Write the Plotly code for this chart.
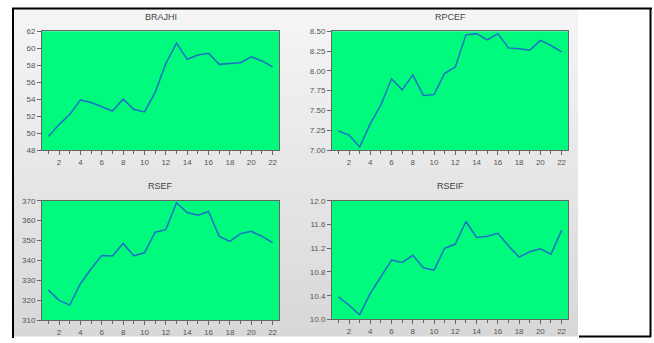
import plotly.graph_objects as go

W, H = 654, 343

obs = list(range(1, 23))
brajhi = [49.6, 51.0, 52.2, 53.9, 53.6, 53.1, 52.6, 54.0, 52.8, 52.5, 54.8,
          58.2, 60.6, 58.7, 59.2, 59.4, 58.1, 58.2, 58.3, 59.0, 58.5, 57.8]
rpcef = [7.24, 7.19, 7.04, 7.33, 7.57, 7.90, 7.76, 7.95, 7.69, 7.70, 7.97,
         8.05, 8.455, 8.47, 8.39, 8.47, 8.29, 8.28, 8.26, 8.385, 8.32, 8.24]
rsef = [325.2, 320.1, 317.7, 328.4, 335.9, 342.6, 342.3, 348.6, 342.4, 343.9,
        354.2, 355.5, 369.0, 364.1, 362.7, 364.6, 352.1, 349.6, 353.5, 354.7,
        352.1, 349.0]
rseif = [10.38, 10.24, 10.08, 10.44, 10.72, 11.00, 10.96, 11.08, 10.87, 10.83,
         11.20, 11.27, 11.65, 11.38, 11.40, 11.45, 11.24, 11.05, 11.14, 11.19,
         11.10, 11.50]

titles = ["BRAJHI", "RPCEF", "RSEF", "RSEIF"]
series = [brajhi, rpcef, rsef, rseif]
yranges = [(48, 62), (7.0, 8.5), (310, 370), (10.0, 12.0)]
ydticks = [2, 0.25, 10, 0.4]
yformats = ["d", ".2f", "d", ".1f"]

# pixel boxes: (left, right, top, bottom)
boxes = [(42, 279, 28, 150), (332, 568, 28, 150),
         (42, 279, 202, 325), (332, 568, 202, 324)]

def px(x):
    return x / W

def py(y):
    return 1 - y / H

fig = go.Figure()
layout = {}
annotations = []
for i, (t, s, yr, dt, fmt, b) in enumerate(zip(titles, series, yranges, ydticks, yformats, boxes)):
    n = "" if i == 0 else str(i + 1)
    fig.add_trace(go.Scatter(x=obs, y=s, mode="lines",
                             line=dict(color="#1c6fc4", width=1.5),
                             xaxis="x" + n, yaxis="y" + n, showlegend=False,
                             hoverinfo="skip"))
    l, r, tp, bt = b
    layout["xaxis" + n] = dict(
        domain=[px(l), px(r)], anchor="y" + n, range=[0.4, 22.6],
        tick0=0, dtick=2, ticks="outside", ticklen=4, tickcolor="#666",
        showgrid=False, zeroline=False, showline=True, linecolor="#666",
        linewidth=1, mirror=True,
        tickfont=dict(family="Liberation Sans, Arial", size=8, color="#555"),
        minor=dict(dtick=1, tick0=0, ticks="outside", ticklen=3, tickcolor="#666"),
        fixedrange=True)
    layout["yaxis" + n] = dict(
        domain=[py(bt), py(tp)], anchor="x" + n, range=list(yr),
        dtick=dt, tick0=yr[0], tickformat=fmt, ticks="outside", ticklen=4,
        tickcolor="#666", showgrid=False, zeroline=False, showline=True,
        linecolor="#666", linewidth=1, mirror=True,
        tickfont=dict(family="Liberation Sans, Arial", size=8, color="#555"),
        fixedrange=True)
    annotations.append(dict(text=t, x=px((l + r) / 2), y=py(tp - 15),
                            xref="paper", yref="paper", showarrow=False,
                            xanchor="center", yanchor="middle",
                            font=dict(family="Liberation Sans, Arial", size=9,
                                      color="#444")))

shapes = []
# gray gradient background
g_top, g_bot = 14, 578
y0, y1 = 5, 341
steps = 40
c0, c1 = 245, 216
for k in range(steps):
    ya = y0 + (y1 - y0) * k / steps
    yb = y0 + (y1 - y0) * (k + 1) / steps + 0.5
    c = int(round(c0 + (c1 - c0) * k / (steps - 1)))
    shapes.append(dict(type="rect", xref="paper", yref="paper", layer="below",
                       x0=px(g_top), x1=px(g_bot), y0=py(yb), y1=py(ya),
                       fillcolor=f"rgb({c},{c},{c})", line=dict(width=0)))
# green plot areas
for (l, r, tp, bt) in boxes:
    shapes.append(dict(type="rect", xref="paper", yref="paper", layer="below",
                       x0=px(l), x1=px(r), y0=py(bt), y1=py(tp),
                       fillcolor="#00fa7d", line=dict(width=0)))
# black outer frame lines
blk = dict(color="black", width=2)
shapes += [
    dict(type="line", xref="paper", yref="paper", x0=px(12), x1=px(652), y0=py(4.5), y1=py(4.5), line=blk),
    dict(type="line", xref="paper", yref="paper", x0=px(13), x1=px(13), y0=py(4), y1=py(343), line=blk),
    dict(type="line", xref="paper", yref="paper", x0=px(650.5), x1=px(650.5), y0=py(4), y1=py(342), line=blk),
    dict(type="line", xref="paper", yref="paper", x0=px(579), x1=px(651), y0=py(341.5), y1=py(341.5), line=blk),
]

fig.update_layout(width=W, height=H, margin=dict(l=0, r=0, t=0, b=0),
                  paper_bgcolor="white", plot_bgcolor="rgba(0,0,0,0)",
                  annotations=annotations, shapes=shapes, **layout)

fig.write_html("out.html", config={"displayModeBar": False})
